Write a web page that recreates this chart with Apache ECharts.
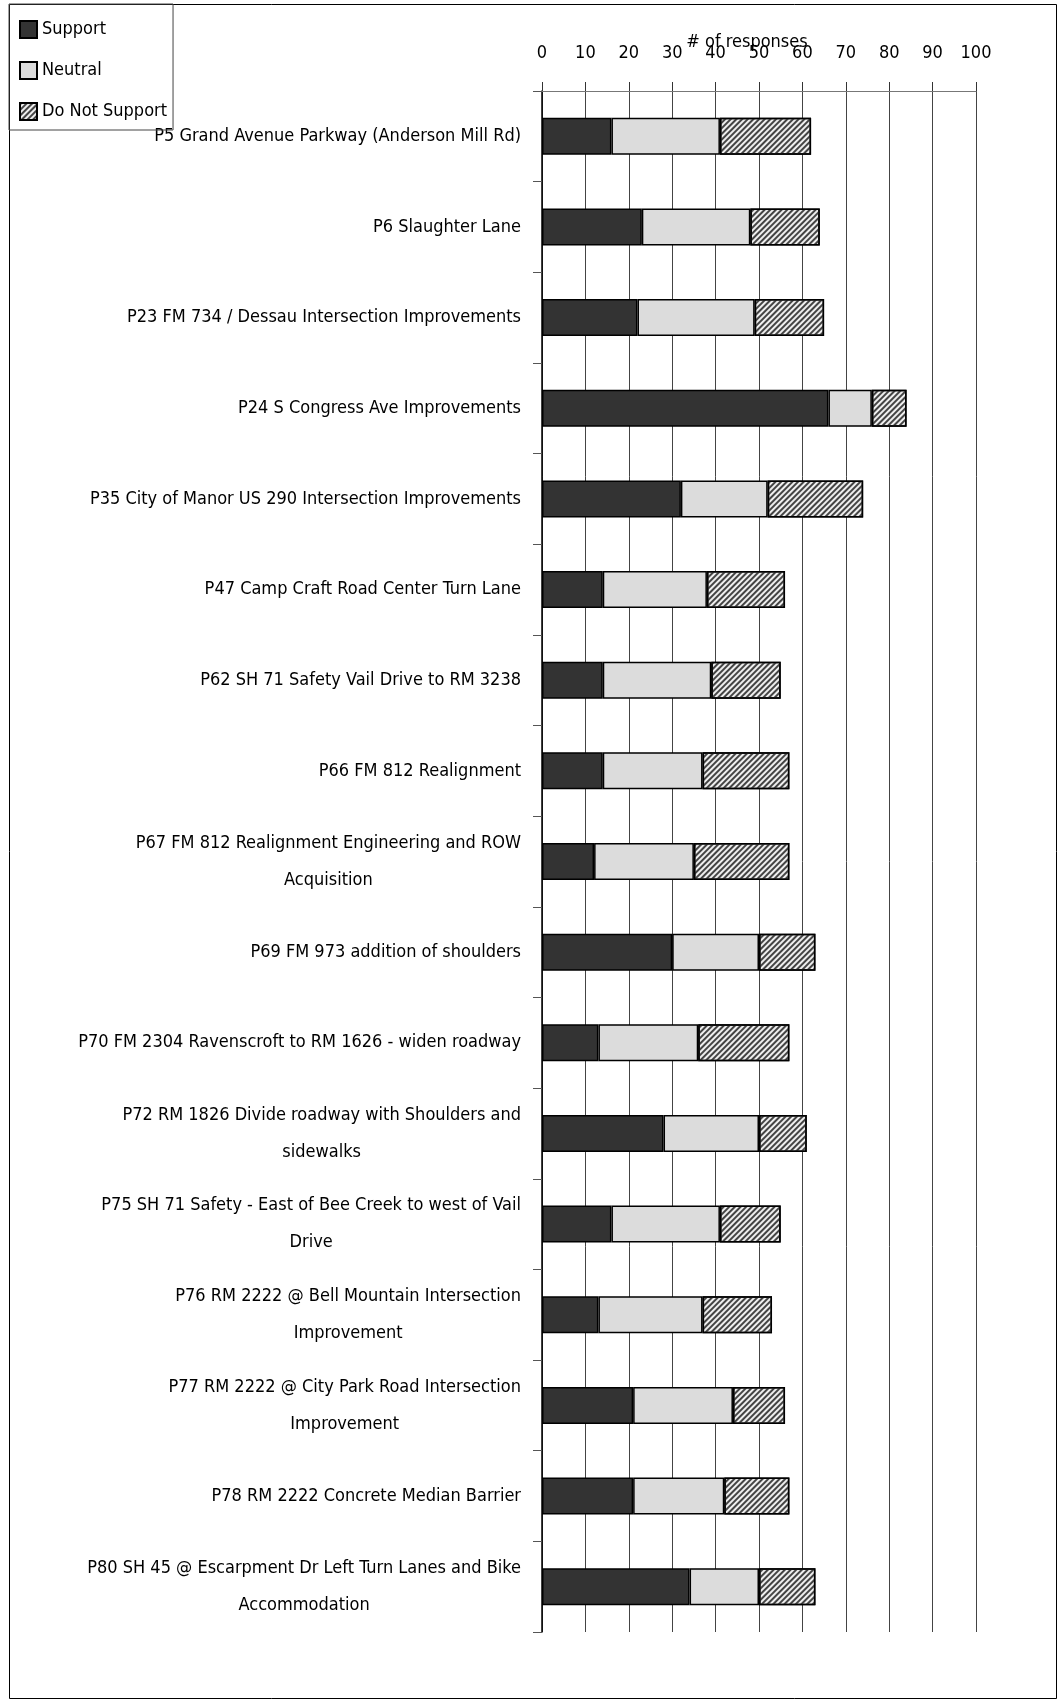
<!DOCTYPE html>
<html>
<head>
<meta charset="utf-8">
<script src="https://cdn.jsdelivr.net/npm/echarts@6/dist/echarts.min.js"></script>
<style>
  html, body { margin: 0; padding: 0; background: #fff; }
  #chart { width: 1058px; height: 1700px; }
</style>
</head>
<body>
<div id="chart"></div>
<script>
// project names, top to bottom
var categories = [
  "P5 Grand Avenue Parkway (Anderson Mill Rd)",
  "P6 Slaughter Lane",
  "P23 FM 734 / Dessau Intersection Improvements",
  "P24 S Congress Ave Improvements",
  "P35 City of Manor US 290 Intersection Improvements",
  "P47 Camp Craft Road Center Turn Lane",
  "P62 SH 71 Safety Vail Drive to RM 3238",
  "P66 FM 812 Realignment",
  "P67 FM 812 Realignment Engineering and ROW\nAcquisition",
  "P69 FM 973 addition of shoulders",
  "P70 FM 2304 Ravenscroft to RM 1626 - widen roadway",
  "P72 RM 1826 Divide roadway with Shoulders and\nsidewalks",
  "P75 SH 71 Safety - East of Bee Creek to west of Vail\nDrive",
  "P76 RM 2222 @ Bell Mountain Intersection\nImprovement",
  "P77 RM 2222 @ City Park Road Intersection\nImprovement",
  "P78 RM 2222 Concrete Median Barrier",
  "P80 SH 45 @ Escarpment Dr Left Turn Lanes and Bike\nAccommodation"
];

var support    = [16, 23, 22, 66, 32, 14, 14, 14, 12, 30, 13, 28, 16, 13, 21, 21, 34];
var neutral    = [25, 25, 27, 10, 20, 24, 25, 23, 23, 20, 23, 22, 25, 24, 23, 21, 16];
var notSupport = [21, 16, 16,  8, 22, 18, 16, 20, 22, 13, 21, 11, 14, 16, 12, 15, 13];

var axisMin = 0;
var axisMax = 100;
var axisStep = 10;

var FONT = '"DejaVu Sans Condensed", "DejaVu Sans", sans-serif';
var FS = 18;

var chart = echarts.init(document.getElementById("chart"));

function barSeries(name, data, style) {
  return {
    name: name,
    type: "bar",
    stack: "total",
    barWidth: 37,
    data: data,
    itemStyle: style
  };
}

chart.setOption({
  animation: false,
  graphic: [
    {
      type: "rect",
      shape: { x: 9.5, y: 4.5, width: 1047, height: 1694 },
      style: { fill: null, stroke: "#000", lineWidth: 1 },
      silent: true
    }
  ],
  legend: {
    orient: "vertical",
    left: 9,
    top: 4,
    padding: [16, 6, 9, 10],
    itemWidth: 17,
    itemHeight: 17,
    itemGap: 22,
    borderColor: "#444",
    borderWidth: 1,
    icon: "rect",
    textStyle: { fontFamily: FONT, fontSize: FS, color: "#000" },
    data: ["Support", "Neutral", "Do Not Support"]
  },
  grid: {
    left: 542,
    right: 82,
    top: 91,
    bottom: 68
  },
  xAxis: {
    type: "value",
    position: "top",
    min: axisMin,
    max: axisMax,
    interval: axisStep,
    name: "# of responses",
    nameLocation: "middle",
    nameGap: 40,
    nameMoveOverlap: false,
    nameTextStyle: { fontFamily: FONT, fontSize: FS, color: "#000", padding: [0, 24, 0, 0] },
    axisLine: { show: true, lineStyle: { color: "#777", width: 1 } },
    axisTick: { show: true, length: 9, lineStyle: { color: "#333" } },
    axisLabel: { fontFamily: FONT, fontSize: FS, color: "#000", margin: 29 },
    splitLine: { show: true, lineStyle: { color: "#444", width: 1 } }
  },
  yAxis: {
    type: "category",
    inverse: true,
    data: categories,
    axisLine: { show: true, lineStyle: { color: "#000", width: 1.5 } },
    axisTick: { show: true, length: 9, lineStyle: { color: "#555" } },
    axisLabel: {
      margin: 21,
      color: "#000",
      fontFamily: FONT,
      fontSize: FS,
      formatter: function (v) {
        return v.split("\n").map(function (l) { return "{c|" + l + "}"; }).join("\n");
      },
      rich: {
        c: { align: "center", fontFamily: FONT, fontSize: FS, lineHeight: 37, color: "#000" }
      }
    }
  },
  series: [
    barSeries("Support", support, { color: "#333333", borderColor: "#000", borderWidth: 1.5 }),
    barSeries("Neutral", neutral, { color: "#dcdcdc", borderColor: "#000", borderWidth: 1.5 }),
    barSeries("Do Not Support", notSupport, {
      color: "#eeeeee",
      borderColor: "#000",
      borderWidth: 1.5,
      decal: {
        symbol: "rect",
        symbolSize: 1,
        color: "#444",
        dashArrayX: [1, 0],
        dashArrayY: [2, 2],
        rotation: -Math.PI / 4
      }
    })
  ]
});
</script>
</body>
</html>
